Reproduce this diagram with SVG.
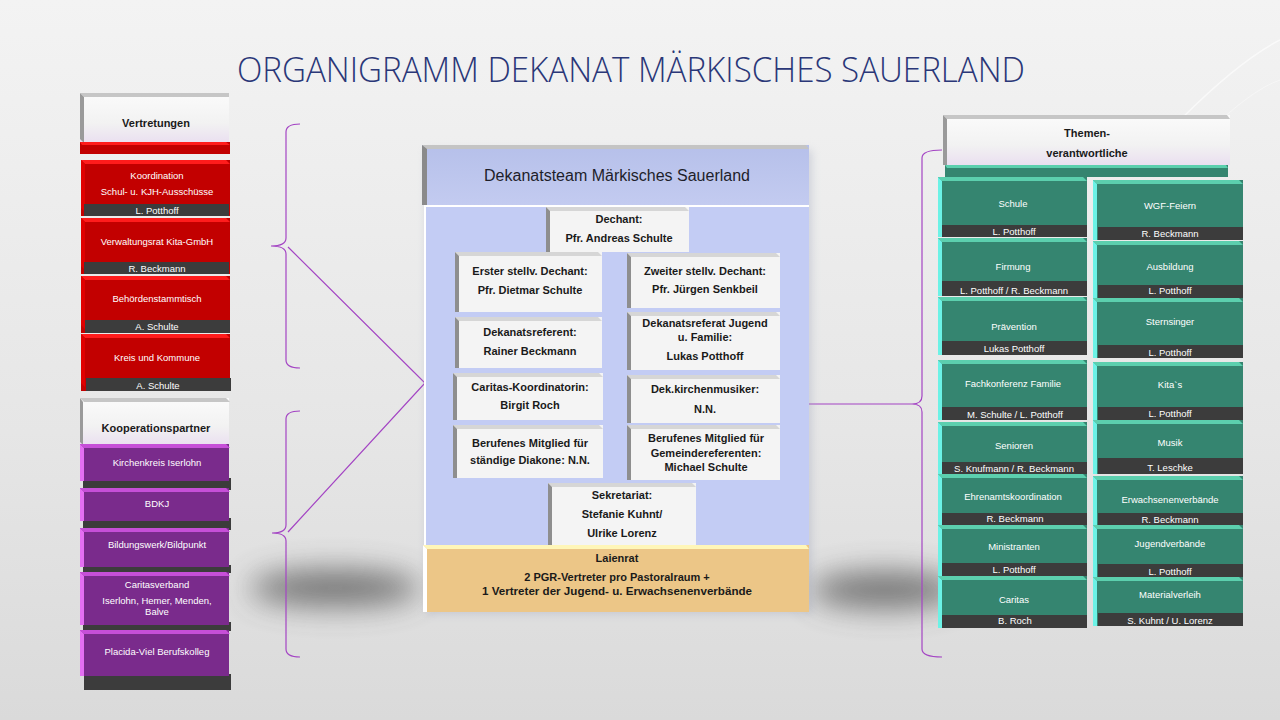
<svg xmlns="http://www.w3.org/2000/svg" width="1280" height="720" viewBox="0 0 1280 720">
<defs>
<linearGradient id="bg" x1="0" y1="0" x2="0" y2="1">
<stop offset="0" stop-color="#f3f3f3"/>
<stop offset="0.6" stop-color="#e6e6e6"/>
<stop offset="1" stop-color="#dadada"/>
</linearGradient>
<filter id="soft" filterUnits="userSpaceOnUse" x="150" y="480" width="900" height="220"><feGaussianBlur stdDeviation="15"/></filter>
<linearGradient id="hdr" x1="0" y1="0" x2="0" y2="1">
<stop offset="0" stop-color="#fbfbfb"/>
<stop offset="0.6" stop-color="#f2f2f2"/>
<stop offset="1" stop-color="#eadff0"/>
</linearGradient>
<linearGradient id="team" x1="0" y1="0" x2="0" y2="1">
<stop offset="0" stop-color="#b6c0ea"/>
<stop offset="1" stop-color="#c3cbf0"/>
</linearGradient>
<filter id="blur" x="-20%" y="-20%" width="140%" height="140%"><feGaussianBlur stdDeviation="4"/></filter>
<style>
.t{font-family:"Liberation Sans",Arial,sans-serif;text-anchor:middle}
.w{fill:#ffffff;font-size:9.5px}
.b{fill:#1a1a1a;font-weight:bold;font-size:11px}
.red{fill:#c20000}.rHi{fill:#ff1c1c}.rSide{fill:#e00000}
.pur{fill:#7a2b8c}.pHi{fill:#c64fd8}.pSide{fill:#e46ff2}
.tea{fill:#358570}.tHi{fill:#5ccfae}.tSide{fill:#6cf2e6}
.lb{fill:#3c3c3c}.lbS{fill:#6b6b6b}
.hd{fill:url(#hdr)}.hdTop{fill:#c6c6c6}.hdSide{fill:#9a9a9a}
.wb{fill:#f4f4f4}.wTop{fill:#d6d6d6}.wSide{fill:#8e8e8e}
.con{fill:none;stroke:#a445c4;stroke-width:1.2}
</style>
</defs>

<rect width="1280" height="720" fill="url(#bg)"/>
<path d="M1180,120 Q1240,60 1280,40" fill="none" stroke="#ffffff" stroke-opacity="0.6" stroke-width="1.5"/>
<path d="M1200,140 Q1250,90 1280,80" fill="none" stroke="#ffffff" stroke-opacity="0.4" stroke-width="1"/>

<g filter="url(#soft)" opacity="0.75">
<ellipse cx="335" cy="588" rx="85" ry="18" fill="#505050"/>
<ellipse cx="885" cy="590" rx="75" ry="18" fill="#505050"/>
</g>

<text x="631" y="82" class="t" style="font-family:'Open Sans','Liberation Sans',sans-serif;font-weight:300;font-size:34px;fill:#2a3778" textLength="788" lengthAdjust="spacingAndGlyphs">ORGANIGRAMM DEKANAT MÄRKISCHES SAUERLAND</text>

<!-- Connectors -->
<g id="connectors">
<path class="con" d="M300,124 Q286,124 286,132 L286,238 Q286,246 271,246 Q286,246 286,254 L286,360 Q286,368 300,368"/>
<path class="con" d="M300,411 Q286,411 286,419 L286,525 Q286,533 272,533 Q286,533 286,541 L286,649 Q286,657 300,657"/>
<path class="con" d="M288,247 L425,383 L288,532"/>
<path class="con" d="M942,150 Q922,150 922,158 L922,396 Q922,404 912,404 Q922,404 922,412 L922,649 Q922,657 942,657"/>
<path class="con" d="M808,404 L912,404"/>
</g>

<!-- Left: Vertretungen -->
<g id="vertretungen">
<rect class="hd" x="80" y="93" width="149" height="50"/>
<path class="hdTop" d="M80,93h149v4H84z"/>
<path class="hdSide" d="M80,93l4,4v46l-4,-4z"/>
<text class="t b" x="156" y="127">Vertretungen</text>
<rect class="red" x="80" y="142" width="150" height="12"/>
<path class="rHi" d="M80,142h146l4,3H82z"/>
</g>
<g id="koordination">
<rect class="red" x="81" y="160" width="149" height="56"/>
<path class="rHi" d="M81,160h145l4,4H85z"/>
<path class="rSide" d="M81,160l4,4v48l-4,-4z"/>
<rect class="lb" x="84" y="204" width="145" height="12"/>
<text class="t w" x="157" y="179">Koordination</text>
<text class="t w" x="157" y="195">Schul- u. KJH-Ausschüsse</text>
<text class="t w" x="157" y="214">L. Potthoff</text>
</g>
<g id="verwaltungsrat">
<rect class="red" x="81" y="218" width="149" height="56"/>
<path class="rHi" d="M81,218h145l4,4H85z"/>
<path class="rSide" d="M81,218l4,4v48l-4,-4z"/>
<rect class="lb" x="84" y="262" width="145" height="12"/>
<text class="t w" x="157" y="245">Verwaltungsrat Kita-GmbH</text>
<text class="t w" x="157" y="272">R. Beckmann</text>
</g>
<g id="behoerden">
<rect class="red" x="81" y="276" width="149" height="57"/>
<path class="rHi" d="M81,276h145l4,4H85z"/>
<path class="rSide" d="M81,276l4,4v49l-4,-4z"/>
<rect class="lb" x="85" y="320" width="145" height="13"/>
<text class="t w" x="157" y="302">Behördenstammtisch</text>
<text class="t w" x="157" y="330">A. Schulte</text>
</g>
<g id="kreis">
<rect class="red" x="81" y="334" width="149" height="57"/>
<path class="rHi" d="M81,334h145l4,4H85z"/>
<path class="rSide" d="M81,334l4,4v49l-4,-4z"/>
<rect class="lb" x="86" y="378" width="145" height="13"/>
<text class="t w" x="157" y="361">Kreis und Kommune</text>
<text class="t w" x="158" y="389">A. Schulte</text>
</g>

<!-- Left: Kooperationspartner -->
<g id="kooperationspartner">
<rect class="hd" x="80" y="398" width="149" height="47"/>
<path class="hdTop" d="M80,398h146l4,4H84z"/>
<path class="hdSide" d="M80,398l3,4v43l-3,-3z"/>
<text class="t b" x="156" y="432">Kooperationspartner</text>
</g>
<g id="kirchenkreis">
<rect class="lb" x="83" y="478" width="148" height="12"/>
<rect class="pur" x="80" y="444" width="149" height="37"/>
<path class="pHi" d="M80,444h146l4,4H84z"/>
<path class="pSide" d="M80,444l4,4v33h-4z"/>
<text class="t w" x="157" y="466">Kirchenkreis Iserlohn</text>
</g>
<g id="bdkj">
<rect class="lb" x="83" y="518" width="148" height="12"/>
<rect class="pur" x="80" y="488" width="149" height="33"/>
<path class="pHi" d="M80,488h146l4,4H84z"/>
<path class="pSide" d="M80,488l4,4v29h-4z"/>
<text class="t w" x="157" y="507">BDKJ</text>
</g>
<g id="bildungswerk">
<rect class="lb" x="83" y="565" width="148" height="8"/>
<rect class="pur" x="80" y="528" width="149" height="39"/>
<path class="pHi" d="M80,528h146l4,4H84z"/>
<path class="pSide" d="M80,528l4,4v35h-4z"/>
<text class="t w" x="157" y="548">Bildungswerk/Bildpunkt</text>
</g>
<g id="caritasverband">
<rect class="lb" x="83" y="622" width="148" height="9"/>
<rect class="pur" x="80" y="572" width="149" height="53"/>
<path class="pHi" d="M80,572h146l4,4H84z"/>
<path class="pSide" d="M80,572l4,4v49h-4z"/>
<text class="t w" x="157" y="588">Caritasverband</text>
<text class="t w" x="157" y="604">Iserlohn, Hemer, Menden,</text>
<text class="t w" x="157" y="615">Balve</text>
</g>
<g id="placida">
<rect class="lb" x="84" y="674" width="147" height="16"/>
<rect class="pur" x="80" y="630" width="149" height="46"/>
<path class="pHi" d="M80,630h146l4,4H84z"/>
<path class="pSide" d="M80,630l4,4v42h-4z"/>
<text class="t w" x="157" y="655">Placida-Viel Berufskolleg</text>
</g>

<!-- Center -->
<g id="dekanatsteam">
<rect x="426" y="150" width="386" height="464" fill="#9aa0b8" opacity="0.35" filter="url(#blur)"/>
<rect x="422" y="145" width="387" height="60" fill="url(#team)"/>
<path d="M422,145h384l3,4H426z" fill="#c4c4c4"/>
<path d="M422,145l5,4v56h-5z" fill="#8a8a8a"/>
<text class="t" x="617" y="181" style="font-size:16px;fill:#1e1e2a">Dekanatsteam Märkisches Sauerland</text>
<rect x="424" y="205" width="385" height="342" fill="#c3ccf4"/>
<path d="M424,205h385v2H426v340h-2z" fill="#ffffff"/>
</g>
<g id="dechant">
<rect class="wb" x="546" y="207" width="143" height="45"/>
<path class="wTop" d="M546,207h139l4,4H550z"/>
<path class="wSide" d="M546,207l4,4v41h-4z"/>
<text class="t b" x="619" y="223">Dechant:</text>
<text class="t b" x="619" y="242">Pfr. Andreas Schulte</text>
</g>
<g id="erster">
<rect class="wb" x="455" y="252" width="147" height="60"/>
<path class="wTop" d="M455,252h143l4,4H459z"/>
<path class="wSide" d="M455,252l4,4v56h-4z"/>
<text class="t b" x="530" y="275">Erster stellv. Dechant:</text>
<text class="t b" x="530" y="294">Pfr. Dietmar Schulte</text>
</g>
<g id="zweiter">
<rect class="wb" x="627" y="253" width="153" height="55"/>
<path class="wTop" d="M627,253h149l4,4H631z"/>
<path class="wSide" d="M627,253l4,4v51h-4z"/>
<text class="t b" x="705" y="275">Zweiter stellv. Dechant:</text>
<text class="t b" x="705" y="293">Pfr. Jürgen Senkbeil</text>
</g>
<g id="referent">
<rect class="wb" x="455" y="317" width="147" height="51"/>
<path class="wTop" d="M455,317h143l4,4H459z"/>
<path class="wSide" d="M455,317l4,4v47h-4z"/>
<text class="t b" x="530" y="336">Dekanatsreferent:</text>
<text class="t b" x="530" y="355">Rainer Beckmann</text>
</g>
<g id="referat-jugend">
<rect class="wb" x="627" y="312" width="153" height="58"/>
<path class="wTop" d="M627,312h149l4,4H631z"/>
<path class="wSide" d="M627,312l4,4v54h-4z"/>
<text class="t b" x="705" y="327">Dekanatsreferat Jugend</text>
<text class="t b" x="705" y="341">u. Familie:</text>
<text class="t b" x="705" y="360">Lukas Potthoff</text>
</g>
<g id="caritas-koord">
<rect class="wb" x="453" y="373" width="150" height="47"/>
<path class="wTop" d="M453,373h146l4,4H457z"/>
<path class="wSide" d="M453,373l4,4v43h-4z"/>
<text class="t b" x="530" y="391">Caritas-Koordinatorin:</text>
<text class="t b" x="530" y="409">Birgit Roch</text>
</g>
<g id="kirchenmusiker">
<rect class="wb" x="627" y="375" width="153" height="48"/>
<path class="wTop" d="M627,375h149l4,4H631z"/>
<path class="wSide" d="M627,375l4,4v44h-4z"/>
<text class="t b" x="705" y="393">Dek.kirchenmusiker:</text>
<text class="t b" x="705" y="413">N.N.</text>
</g>
<g id="diakone">
<rect class="wb" x="453" y="425" width="150" height="53"/>
<path class="wTop" d="M453,425h146l4,4H457z"/>
<path class="wSide" d="M453,425l4,4v49h-4z"/>
<text class="t b" x="530" y="447">Berufenes Mitglied für</text>
<text class="t b" x="530" y="464">ständige Diakone:  N.N.</text>
</g>
<g id="gemeindereferenten">
<rect class="wb" x="627" y="425" width="153" height="55"/>
<path class="wTop" d="M627,425h149l4,4H631z"/>
<path class="wSide" d="M627,425l4,4v51h-4z"/>
<text class="t b" x="706" y="442">Berufenes Mitglied für</text>
<text class="t b" x="706" y="457">Gemeindereferenten:</text>
<text class="t b" x="706" y="471">Michael Schulte</text>
</g>
<g id="sekretariat">
<rect class="wb" x="548" y="483" width="148" height="62"/>
<path class="wTop" d="M548,483h144l4,4H552z"/>
<path class="wSide" d="M548,483l4,4v58h-4z"/>
<text class="t b" x="622" y="499">Sekretariat:</text>
<text class="t b" x="622" y="518">Stefanie Kuhnt/</text>
<text class="t b" x="622" y="537">Ulrike Lorenz</text>
</g>
<g id="laienrat">
<rect x="423" y="545" width="386" height="67" fill="#ecc687"/>
<path d="M423,545h383l3,4H427z" fill="#fff6b8"/>
<path d="M423,545l4,4v63h-4z" fill="#ffffff"/>
<text class="t b" x="617" y="562">Laienrat</text>
<text class="t b" x="617" y="581">2 PGR-Vertreter pro Pastoralraum +</text>
<text class="t b" x="617" y="595" textLength="270" lengthAdjust="spacingAndGlyphs">1 Vertreter der Jugend- u. Erwachsenenverbände</text>
</g>

<!-- Right: Themenverantwortliche -->
<g id="themen">
<rect class="hd" x="943" y="115" width="287" height="50"/>
<path class="hdTop" d="M943,115h284l3,4H947z"/>
<path class="hdSide" d="M943,115l4,4v46h-4z"/>
<text class="t b" x="1087" y="137">Themen-</text>
<text class="t b" x="1087" y="157">verantwortliche</text>
<rect class="tea" x="945" y="165" width="283" height="12"/>
<path class="tHi" d="M945,165h281l2,3H947z"/>
</g>

<g id="schule">
<rect class="tea" x="938" y="177" width="149" height="60"/>
<path class="tHi" d="M938,177h145l4,4H942z"/>
<path class="tSide" d="M938,177l4,4v56h-4z"/>
<rect class="lb" x="942" y="225" width="145" height="12"/>
<text class="t w" x="1013" y="207">Schule</text>
<text class="t w" x="1014" y="235">L. Potthoff</text>
</g>
<g id="firmung">
<rect class="tea" x="938" y="238" width="149" height="58"/>
<path class="tHi" d="M938,238h145l4,4H942z"/>
<path class="tSide" d="M938,238l4,4v54h-4z"/>
<rect class="lb" x="942" y="281" width="145" height="15"/>
<text class="t w" x="1013" y="270">Firmung</text>
<text class="t w" x="1014" y="294">L. Potthoff / R. Beckmann</text>
</g>
<g id="praevention">
<rect class="tea" x="938" y="297" width="149" height="58"/>
<path class="tHi" d="M938,297h145l4,4H942z"/>
<path class="tSide" d="M938,297l4,4v54h-4z"/>
<rect class="lb" x="942" y="341" width="145" height="14"/>
<text class="t w" x="1014" y="330">Prävention</text>
<text class="t w" x="1014" y="352">Lukas Potthoff</text>
</g>
<g id="fachkonferenz">
<rect class="tea" x="938" y="360" width="149" height="60"/>
<path class="tHi" d="M938,360h145l4,4H942z"/>
<path class="tSide" d="M938,360l4,4v56h-4z"/>
<rect class="lb" x="942" y="407" width="145" height="13"/>
<text class="t w" x="1013" y="387">Fachkonferenz Familie</text>
<text class="t w" x="1015" y="418">M.  Schulte / L. Potthoff</text>
</g>
<g id="senioren">
<rect class="tea" x="938" y="422" width="149" height="52"/>
<path class="tHi" d="M938,422h145l4,4H942z"/>
<path class="tSide" d="M938,422l4,4v48h-4z"/>
<rect class="lb" x="942" y="462" width="145" height="12"/>
<text class="t w" x="1014" y="449">Senioren</text>
<text class="t w" x="1014" y="472">S.  Knufmann / R. Beckmann</text>
</g>
<g id="ehrenamt">
<rect class="tea" x="938" y="474" width="149" height="52"/>
<path class="tHi" d="M938,474h145l4,4H942z"/>
<path class="tSide" d="M938,474l4,4v48h-4z"/>
<rect class="lb" x="942" y="513" width="145" height="13"/>
<text class="t w" x="1013" y="500">Ehrenamtskoordination</text>
<text class="t w" x="1015" y="522">R. Beckmann</text>
</g>
<g id="ministranten">
<rect class="tea" x="938" y="525" width="149" height="51"/>
<path class="tHi" d="M938,525h145l4,4H942z"/>
<path class="tSide" d="M938,525l4,4v47h-4z"/>
<rect class="lb" x="942" y="563" width="145" height="13"/>
<text class="t w" x="1014" y="550">Ministranten</text>
<text class="t w" x="1014" y="573">L. Potthoff</text>
</g>
<g id="caritas">
<rect class="tea" x="938" y="576" width="149" height="52"/>
<path class="tHi" d="M938,576h145l4,4H942z"/>
<path class="tSide" d="M938,576l4,4v48h-4z"/>
<rect class="lb" x="942" y="615" width="145" height="13"/>
<text class="t w" x="1014" y="603">Caritas</text>
<text class="t w" x="1015" y="624">B. Roch</text>
</g>

<g id="wgf">
<rect class="tea" x="1093" y="180" width="150" height="60"/>
<path class="tHi" d="M1093,180h146l4,4H1097z"/>
<path class="tSide" d="M1093,180l4,4v56h-4z"/>
<rect class="lb" x="1098" y="227" width="145" height="13"/>
<text class="t w" x="1170" y="209">WGF-Feiern</text>
<text class="t w" x="1170" y="237">R. Beckmann</text>
</g>
<g id="ausbildung">
<rect class="tea" x="1093" y="241" width="150" height="57"/>
<path class="tHi" d="M1093,241h146l4,4H1097z"/>
<path class="tSide" d="M1093,241l4,4v53h-4z"/>
<rect class="lb" x="1098" y="285" width="145" height="13"/>
<text class="t w" x="1170" y="270">Ausbildung</text>
<text class="t w" x="1170" y="294">L. Potthoff</text>
</g>
<g id="sternsinger">
<rect class="tea" x="1093" y="298" width="150" height="60"/>
<path class="tHi" d="M1093,298h146l4,4H1097z"/>
<path class="tSide" d="M1093,298l4,4v56h-4z"/>
<rect class="lb" x="1098" y="345" width="145" height="13"/>
<text class="t w" x="1170" y="325">Sternsinger</text>
<text class="t w" x="1170" y="356">L. Potthoff</text>
</g>
<g id="kitas">
<rect class="tea" x="1093" y="362" width="150" height="58"/>
<path class="tHi" d="M1093,362h146l4,4H1097z"/>
<path class="tSide" d="M1093,362l4,4v54h-4z"/>
<rect class="lb" x="1098" y="407" width="145" height="13"/>
<text class="t w" x="1170" y="388">Kita`s</text>
<text class="t w" x="1170" y="417">L. Potthoff</text>
</g>
<g id="musik">
<rect class="tea" x="1093" y="420" width="150" height="54"/>
<path class="tHi" d="M1093,420h146l4,4H1097z"/>
<path class="tSide" d="M1093,420l4,4v50h-4z"/>
<rect class="lb" x="1098" y="458" width="145" height="16"/>
<text class="t w" x="1170" y="446">Musik</text>
<text class="t w" x="1170" y="471">T. Leschke</text>
</g>
<g id="erwachsenenverbaende">
<rect class="tea" x="1093" y="476" width="150" height="50"/>
<path class="tHi" d="M1093,476h146l4,4H1097z"/>
<path class="tSide" d="M1093,476l4,4v46h-4z"/>
<rect class="lb" x="1098" y="513" width="145" height="13"/>
<text class="t w" x="1170" y="503">Erwachsenenverbände</text>
<text class="t w" x="1170" y="523">R. Beckmann</text>
</g>
<g id="jugendverbaende">
<rect class="tea" x="1093" y="525" width="150" height="52"/>
<path class="tHi" d="M1093,525h146l4,4H1097z"/>
<path class="tSide" d="M1093,525l4,4v48h-4z"/>
<rect class="lb" x="1098" y="564" width="145" height="13"/>
<text class="t w" x="1170" y="547">Jugendverbände</text>
<text class="t w" x="1170" y="575">L. Potthoff</text>
</g>
<g id="materialverleih">
<rect class="tea" x="1093" y="577" width="150" height="49"/>
<path class="tHi" d="M1093,577h146l4,4H1097z"/>
<path class="tSide" d="M1093,577l4,4v45h-4z"/>
<rect class="lb" x="1098" y="613" width="145" height="13"/>
<text class="t w" x="1170" y="598">Materialverleih</text>
<text class="t w" x="1170" y="624">S. Kuhnt / U. Lorenz</text>
</g>
</svg>
